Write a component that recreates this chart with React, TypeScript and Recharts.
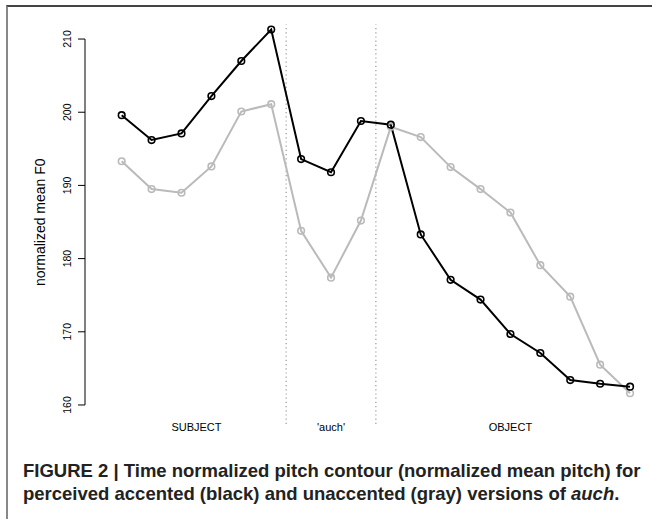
import React from 'react';
import { LineChart, Line, XAxis, YAxis, ReferenceLine } from 'recharts';

// time-normalised measurement points (1..18)
const timeIndex = [1, 2, 3, 4, 5, 6, 7, 8, 9, 10, 11, 12, 13, 14, 15, 16, 17, 18];
// perceived accented (black)
const accented = [199.6, 196.2, 197.1, 202.2, 207.0, 211.3, 193.6, 191.8, 198.8, 198.3, 183.3, 177.1, 174.4, 169.7, 167.1, 163.4, 162.9, 162.5];
// perceived unaccented (gray)
const unaccented = [193.3, 189.5, 189.0, 192.6, 200.1, 201.1, 183.8, 177.4, 185.2, 198.0, 196.6, 192.5, 189.5, 186.3, 179.1, 174.8, 165.5, 161.6];

const yTicks = [160, 170, 180, 190, 200, 210];
const segmentLabels = ['SUBJECT', "'auch'", 'OBJECT'];
const segmentCenters = [3.5, 8, 14];
const segmentBoundaries = [6.5, 9.5];

const X_DOMAIN: [number, number] = [-0.227, 18.5];
const Y_DOMAIN: [number, number] = [157.4, 212];

const data = timeIndex.map((t, i) => ({ t, accented: accented[i], unaccented: unaccented[i] }));

const FONT = '"Liberation Sans", Arial, Helvetica, sans-serif';

const YTick = (props: any) => {
  const { x, y, payload } = props;
  return (
    <text
      x={x}
      y={y}
      transform={`rotate(-90 ${x} ${y})`}
      textAnchor="middle"
      fontSize={10.5}
      fontFamily={FONT}
      fill="#000"
    >
      {payload.value}
    </text>
  );
};

export default function App() {
  return (
    <div style={{ position: 'absolute', left: 0, top: 0, width: 652, height: 519, background: '#fff', overflow: 'hidden' }}>
      <div
        style={{
          position: 'absolute',
          left: 6,
          top: 5,
          width: 660,
          height: 530,
          borderTop: '2px solid #444',
          borderLeft: '2px solid #888',
        }}
      />
      <div style={{ position: 'absolute', left: 0, top: 0 }}>
        <LineChart width={652} height={440} data={data} margin={{ top: 24.4, right: 7, bottom: 0, left: 0 }}>
          <XAxis
            dataKey="t"
            type="number"
            domain={X_DOMAIN}
            ticks={segmentCenters}
            tickFormatter={(v: number) => segmentLabels[segmentCenters.indexOf(v)]}
            axisLine={false}
            tickLine={false}
            tickSize={0}
            tickMargin={-1}
            height={16}
            interval={0}
            tick={{ fontSize: 11, fontFamily: FONT, fill: '#000' }}
            allowDataOverflow
          />
          <YAxis
            type="number"
            domain={Y_DOMAIN}
            ticks={yTicks}
            width={85}
            axisLine={false}
            tickLine={{ stroke: '#000', strokeWidth: 1 }}
            tickSize={7}
            tickMargin={7}
            tick={<YTick />}
            interval={0}
            allowDataOverflow
            label={{
              value: 'normalized mean F0',
              angle: -90,
              position: 'center',
              dx: -2.5,
              dy: -2,
              fontSize: 14,
              fontFamily: FONT,
              fill: '#000',
            }}
          />
          <ReferenceLine
            segment={[{ x: X_DOMAIN[0], y: yTicks[0] }, { x: X_DOMAIN[0], y: yTicks[yTicks.length - 1] }]}
            stroke="#000"
            strokeWidth={1}
            ifOverflow="visible"
          />
          {segmentBoundaries.map((b) => (
            <ReferenceLine key={b} x={b} stroke="#999" strokeWidth={1.2} strokeDasharray="1.2 3" />
          ))}
          <Line
            type="linear"
            dataKey="unaccented"
            stroke="#bababa"
            strokeWidth={2}
            dot={{ r: 3.3, fill: 'none', stroke: '#bababa', strokeWidth: 1.6 }}
            activeDot={false}
            isAnimationActive={false}
          />
          <Line
            type="linear"
            dataKey="accented"
            stroke="#000"
            strokeWidth={2}
            dot={{ r: 3.3, fill: 'none', stroke: '#000', strokeWidth: 1.6 }}
            activeDot={false}
            isAnimationActive={false}
          />
        </LineChart>
      </div>
      <div
        style={{
          position: 'absolute',
          left: 23,
          top: 459,
          fontFamily: FONT,
          fontWeight: 'bold',
          fontSize: 18.5,
          lineHeight: '23px',
          color: '#222',
          whiteSpace: 'nowrap',
        }}
      >
        FIGURE 2 | Time normalized pitch contour (normalized mean pitch) for
        <br />
        perceived accented (black) and unaccented (gray) versions of <i>auch</i>.
      </div>
    </div>
  );
}
